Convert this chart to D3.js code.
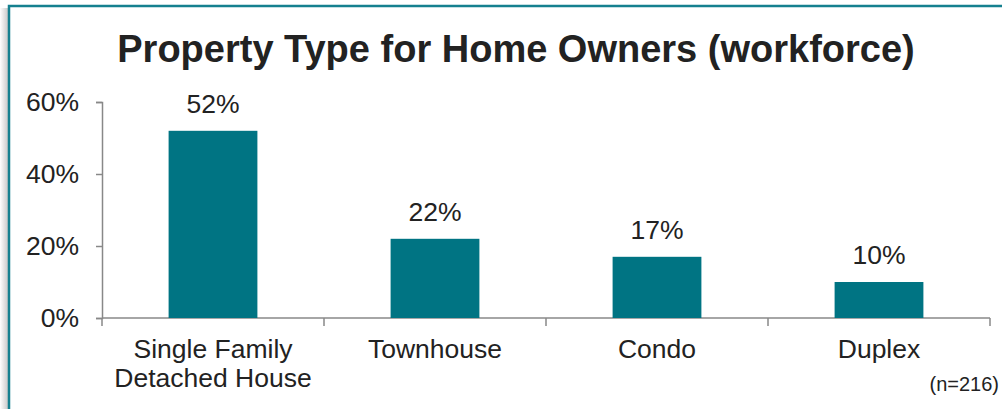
<!DOCTYPE html>
<html>
<head>
<meta charset="utf-8">
<script src="https://cdn.jsdelivr.net/npm/d3@7"></script>
<style>
  body { margin: 0; background: #fff; }
  svg { display: block; font-family: "Liberation Sans", Arial, sans-serif; }
</style>
</head>
<body>
<div id="chart"></div>
<script>
// chart data
const categories = ["Single Family\nDetached House", "Townhouse", "Condo", "Duplex"];
const values = [52, 22, 17, 10];
const yTicks = [0, 20, 40, 60];
const title = "Property Type for Home Owners (workforce)";
const note = "(n=216)";

const W = 1002, H = 409;
const margin = {top: 102, right: 12, bottom: 91, left: 102};
const width = W - margin.left - margin.right,
      height = H - margin.top - margin.bottom;

const svg = d3.select("#chart").append("svg")
    .attr("width", W)
    .attr("height", H);

// frame shadow + teal border
const defs = svg.append("defs");
const grad = defs.append("linearGradient").attr("id", "shade").attr("x1", 0).attr("x2", 1);
grad.append("stop").attr("offset", 0).attr("stop-color", "#fff");
grad.append("stop").attr("offset", 1).attr("stop-color", "#c8c8c8");
svg.append("rect").attr("x", 0).attr("y", 8).attr("width", 8).attr("height", H).attr("fill", "url(#shade)");
svg.append("path")
    .attr("d", `M9,${H} V6 H${W}`)
    .attr("fill", "none")
    .attr("stroke", "#15808f")
    .attr("stroke-width", 2.5);

svg.append("text")
    .attr("x", 516).attr("y", 62)
    .attr("text-anchor", "middle")
    .attr("font-size", 38).attr("font-weight", "bold")
    .attr("fill", "#222")
    .text(title);

const g = svg.append("g").attr("transform", `translate(${margin.left},${margin.top})`);

const x = d3.scaleBand().domain(categories).range([0, width]).paddingInner(0.6).paddingOuter(0.3);
const xb = d3.scaleBand().domain(categories).range([0, width]);
const y = d3.scaleLinear().domain([0, 60]).range([height, 0]);

// y axis
const yAxis = g.append("g")
    .call(d3.axisLeft(y).tickValues(yTicks).tickFormat(d => d + "%").tickSize(6).tickPadding(17));
yAxis.select(".domain").attr("stroke", "#888").attr("stroke-width", 1.5);
yAxis.selectAll(".tick line").attr("stroke", "#888").attr("stroke-width", 1.5);
yAxis.selectAll(".tick text").attr("font-size", 26.5).attr("fill", "#222").attr("font-family", "Liberation Sans, Arial, sans-serif");

// x axis with boundary ticks
g.append("line")
    .attr("x1", 0).attr("x2", width).attr("y1", height).attr("y2", height)
    .attr("stroke", "#888").attr("stroke-width", 1.5);
const bounds = categories.map(c => xb(c)).concat([width]);
g.selectAll(".btick").data(bounds).enter().append("line")
    .attr("x1", d => d).attr("x2", d => d)
    .attr("y1", height).attr("y2", height + 8)
    .attr("stroke", "#888").attr("stroke-width", 1.5);

// bars
g.selectAll(".bar").data(values).enter().append("rect")
    .attr("x", (d, i) => x(categories[i]))
    .attr("width", x.bandwidth())
    .attr("y", d => y(d))
    .attr("height", d => height - y(d))
    .attr("fill", "#007483");

// value labels
g.selectAll(".val").data(values).enter().append("text")
    .attr("x", (d, i) => x(categories[i]) + x.bandwidth() / 2)
    .attr("y", d => y(d) - 18)
    .attr("text-anchor", "middle")
    .attr("font-size", 26.5).attr("fill", "#222")
    .text(d => d + "%");

// category labels
const cl = g.selectAll(".cat").data(categories).enter().append("text")
    .attr("x", d => xb(d) + xb.bandwidth() / 2)
    .attr("y", height + 40)
    .attr("text-anchor", "middle")
    .attr("font-size", 26.5).attr("fill", "#222");
cl.selectAll("tspan").data(d => d.split("\n")).enter().append("tspan")
    .attr("x", function() { return d3.select(this.parentNode).attr("x"); })
    .attr("dy", (d, i) => i ? 29 : 0)
    .text(d => d);

svg.append("text")
    .attr("x", 999).attr("y", 391)
    .attr("text-anchor", "end")
    .attr("font-size", 20).attr("fill", "#222")
    .text(note);
</script>
</body>
</html>
